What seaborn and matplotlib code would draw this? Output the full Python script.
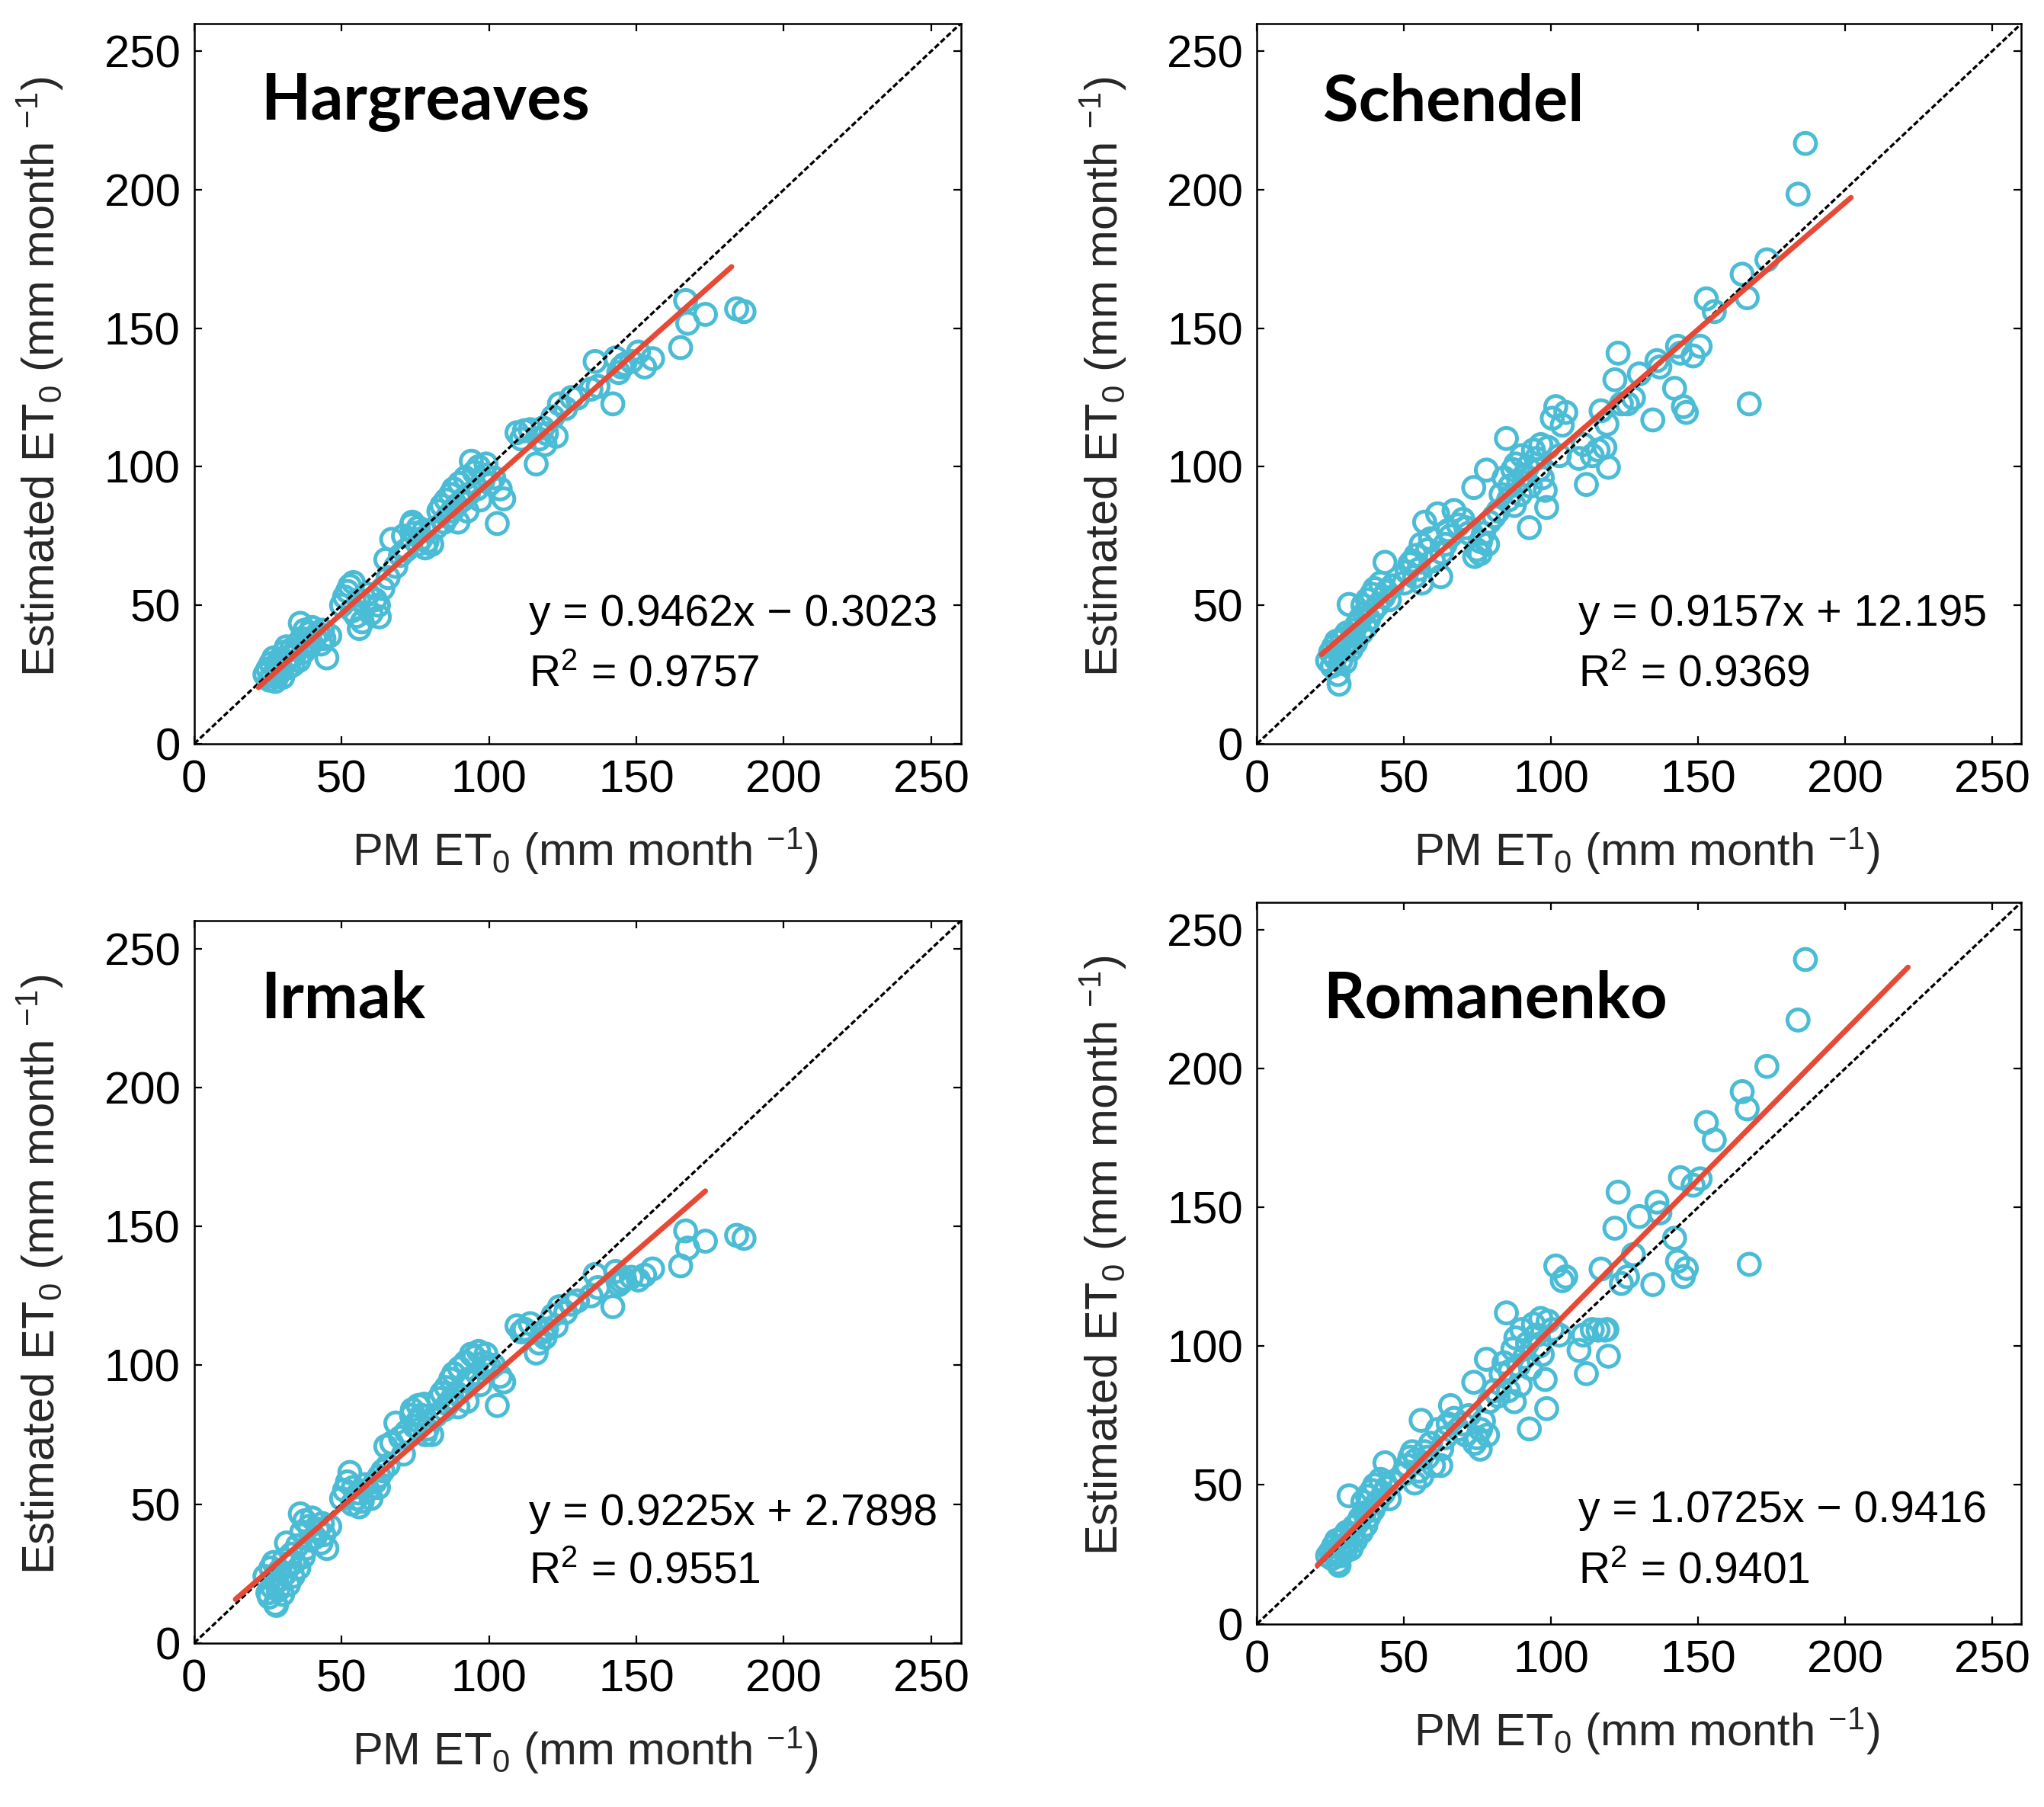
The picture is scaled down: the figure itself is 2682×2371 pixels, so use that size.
import numpy as np
import pandas as pd
import matplotlib
matplotlib.use("Agg")
import matplotlib.pyplot as plt
import seaborn as sns

# ---------------- data ----------------
pm_et0 = [24.0, 25.0, 25.5, 26.0, 26.5, 27.0, 27.5, 27.9, 28.0, 28.5, 29.0, 29.5, 30.0, 30.5,
          31.0, 31.3, 32.0, 32.5, 33.0, 33.5, 34.0, 35.0, 35.5, 36.0, 36.5, 37.0, 37.5, 38.0,
          39.0, 39.5, 40.0, 41.0, 42.0, 43.0, 43.5, 44.0, 45.0, 46.0,
          50.0, 51.0, 52.0, 52.8, 53.6, 54.0, 55.0, 55.8, 56.0, 57.0, 58.0, 59.0, 60.0, 61.4,
          62.5, 62.8, 64.0, 65.0, 65.8, 67.0, 68.4, 70.0, 71.0, 72.0, 73.7, 74.0, 74.8, 75.9,
          76.0, 77.0, 78.0, 78.4, 79.0, 80.6,
          82.0, 83.0, 84.0, 84.8, 85.5, 86.0, 87.0, 87.5, 88.0, 89.0, 89.5, 90.0, 91.0, 92.0,
          92.6, 93.0, 94.0, 95.0, 96.0, 96.5, 97.0, 98.0, 98.5, 99.0, 100.4, 101.6, 102.8,
          103.8, 105.0,
          109.5, 111.0, 112.0, 114.0, 116.0, 117.0, 118.3, 119.0, 119.5, 121.7, 122.8, 123.9,
          126.0, 128.0, 130.0, 134.6, 136.0, 137.0, 142.0, 143.0, 145.0, 146.0, 144.0, 148.3,
          150.7, 152.8, 155.5,
          165.0, 166.7, 167.4, 173.4, 184.0, 186.5]

hargreaves = [25.0, 27.0, 23.0, 29.0, 24.5, 31.0, 22.5, 26.0, 28.0, 25.0, 30.5, 27.0, 24.0, 33.0,
              29.0, 35.0, 27.5, 31.5, 34.0, 28.5, 32.0, 36.0, 30.0, 43.5, 38.0, 33.0, 41.0, 35.5,
              40.0, 37.0, 42.0, 38.5, 40.0, 36.0, 41.0, 38.0, 31.0, 39.0,
              50.0, 53.0, 55.0, 57.0, 48.0, 58.2, 46.0, 52.0, 41.6, 44.0, 50.0, 54.0, 47.0, 52.0,
              50.0, 45.8, 56.0, 66.5, 60.0, 73.8, 64.0, 68.0, 75.0, 70.0, 79.0, 80.0, 76.0, 72.0,
              78.0, 74.0, 77.0, 70.7, 73.0, 72.0,
              78.0, 84.0, 86.0, 80.0, 88.0, 82.0, 90.0, 84.0, 92.0, 86.0, 80.0, 94.0, 88.0, 96.0,
              84.0, 90.0, 102.0, 98.0, 92.0, 100.0, 88.0, 95.0, 97.0, 101.0, 94.0, 96.0, 79.5,
              92.0, 88.4,
              112.3, 110.0, 113.0, 113.4, 101.0, 110.0, 114.0, 108.0, 112.0, 118.0, 111.0, 122.7,
              121.0, 125.0, 124.8, 128.0, 138.0, 129.0, 122.7, 139.3, 136.0, 137.0, 134.0, 138.0,
              141.4, 136.0, 139.0,
              143.0, 160.0, 151.8, 155.0, 157.0, 156.0]

schendel = [30.0, 33.0, 28.0, 35.0, 31.0, 37.0, 25.0, 21.5, 33.5, 30.0, 38.0, 35.0, 29.5, 40.0,
            36.0, 50.3, 34.0, 39.0, 41.0, 36.5, 43.0, 45.0, 40.0, 50.0, 47.0, 42.0, 52.0, 45.0,
            54.0, 48.0, 56.0, 50.0, 58.0, 53.0, 65.5, 55.0, 52.0, 57.0,
            58.0, 62.0, 65.0, 66.0, 60.3, 68.0, 63.0, 72.0, 58.0, 80.0, 70.0, 74.0, 66.0, 83.0,
            60.3, 69.0, 72.0, 77.0, 75.0, 84.2, 79.0, 81.0, 78.0, 76.0, 92.5, 67.6, 70.0, 68.6,
            73.0, 76.0, 98.8, 72.0, 80.0, 82.0,
            84.0, 90.0, 96.0, 110.2, 88.0, 93.0, 99.0, 86.0, 101.0, 95.0, 90.0, 104.0, 97.0, 100.0,
            78.0, 93.0, 106.0, 103.0, 99.0, 108.0, 96.0, 91.5, 85.3, 107.0, 117.5, 121.7, 104.0,
            115.0, 119.6,
            103.0, 108.0, 93.6, 104.0, 106.0, 120.2, 107.0, 115.4, 99.8, 131.4, 141.0, 122.7,
            122.7, 124.8, 133.5, 116.9, 138.3, 136.0, 128.3, 143.5, 121.7, 119.6, 141.0, 140.0,
            143.5, 160.6, 156.0,
            169.5, 161.0, 122.7, 174.7, 198.4, 216.7]

irmak = [24.0, 18.0, 16.5, 27.0, 20.0, 29.0, 14.0, 13.5, 22.0, 19.0, 26.0, 23.0, 17.5, 30.0,
         25.0, 36.0, 21.0, 28.0, 32.0, 24.0, 29.0, 35.0, 27.0, 46.5, 40.0, 31.0, 44.0, 34.0,
         42.0, 37.0, 45.0, 38.0, 41.0, 36.0, 43.0, 39.0, 34.0, 42.0,
         52.0, 55.0, 58.0, 61.4, 50.0, 56.0, 52.0, 54.0, 49.0, 51.0, 57.0, 55.0, 52.0, 58.0,
         56.0, 60.0, 62.0, 70.8, 64.0, 72.0, 79.2, 74.0, 68.0, 76.0, 82.0, 84.0, 78.0, 80.0,
         85.5, 82.0, 86.0, 75.0, 77.0, 75.0,
         82.0, 88.0, 90.0, 84.0, 92.0, 86.0, 95.0, 88.0, 97.0, 90.0, 85.0, 99.0, 92.0, 101.0,
         87.0, 95.0, 104.0, 103.0, 97.0, 105.0, 93.0, 99.0, 101.0, 104.0, 99.0, 100.0, 85.5,
         96.0, 94.0,
         114.2, 112.0, 113.0, 115.0, 104.4, 108.0, 112.0, 110.0, 113.0, 118.0, 114.2, 121.1,
         119.0, 122.0, 123.2, 125.0, 132.7, 128.0, 121.1, 133.8, 130.0, 131.0, 129.0, 131.7,
         130.7, 132.5, 134.7,
         135.8, 148.4, 142.2, 144.7, 146.8, 145.7]

romanenko = [24.5, 26.0, 23.5, 28.0, 25.0, 30.0, 22.0, 21.0, 27.5, 24.5, 31.0, 28.0, 26.0, 33.0,
             29.5, 46.1, 27.0, 32.0, 35.0, 30.0, 36.0, 38.0, 33.0, 44.0, 40.0, 35.5, 46.0, 38.5,
             48.0, 41.0, 50.0, 44.0, 52.0, 47.0, 58.0, 49.0, 45.0, 51.0,
             54.0, 57.0, 60.0, 62.0, 50.7, 59.0, 55.0, 73.3, 53.0, 62.0, 60.0, 65.0, 57.0, 70.0,
             57.0, 63.0, 67.0, 72.0, 78.6, 74.0, 70.0, 72.0, 68.0, 75.0, 87.0, 65.0, 67.0, 62.9,
             70.0, 73.0, 95.3, 68.0, 80.0, 84.0,
             82.0, 90.0, 94.0, 112.0, 84.0, 91.0, 99.0, 80.0, 103.0, 93.0, 86.0, 106.0, 96.0, 101.0,
             70.2, 92.0, 108.0, 104.0, 100.0, 110.0, 97.0, 88.0, 77.5, 109.0, 106.0, 128.9, 104.0,
             123.6, 125.0,
             98.5, 104.0, 90.1, 106.0, 105.8, 127.8, 105.8, 106.0, 96.4, 142.5, 155.5, 122.6,
             125.0, 133.0, 146.7, 122.2, 151.9, 148.0, 138.9, 130.6, 125.1, 128.0, 160.7, 158.0,
             160.3, 180.6, 174.3,
             191.7, 185.5, 129.5, 200.8, 217.5, 239.3]

methods = ["Hargreaves", "Schendel", "Irmak", "Romanenko"]
estimates = [hargreaves, schendel, irmak, romanenko]
slopes = [0.9462, 0.9157, 0.9225, 1.0725]
intercepts = [-0.3023, 12.195, 2.7898, -0.9416]
r_squared = ["0.9757", "0.9369", "0.9551", "0.9401"]
equations = ["y = 0.9462x \u2212 0.3023", "y = 0.9157x + 12.195",
             "y = 0.9225x + 2.7898", "y = 1.0725x \u2212 0.9416"]
fit_x_start = [21.8, 21.9, 14.0, 20.5]
fit_x_end = [182.3, 202.0, 173.4, 221.4]
tick_values = [0, 50, 100, 150, 200, 250]

# ---------------- layout / style ----------------
axes_rects = [(0.095, 0.5884, 0.375, 0.3986), (0.615, 0.5884, 0.374, 0.3986),
              (0.095, 0.0908, 0.375, 0.3995), (0.615, 0.1014, 0.374, 0.3994)]
title_y = [231.7, 231.7, 232.0, 225.0]
eq_x = [113.5, 109.4, 113.5, 109.4]
eq_y = [(42.6, 20.8), (42.6, 20.8), (42.5, 21.6), (36.7, 14.7)]

CYAN = "#4BBCD6"
RED = "#E64A36"

sns.set_theme(style="ticks")
plt.rcParams["font.family"] = ["Liberation Sans", "DejaVu Sans"]
plt.rcParams["mathtext.fontset"] = "custom"
plt.rcParams["mathtext.rm"] = "Liberation Sans"
plt.rcParams["mathtext.it"] = "Liberation Sans:italic"
plt.rcParams["mathtext.bf"] = "Liberation Sans:bold"
plt.rcParams["mathtext.default"] = "regular"

FS_TICK = 43
FS_LABEL = 43
FS_EQ = 41

fig = plt.figure(figsize=(26.82, 23.71), dpi=100)
fig.patch.set_facecolor("white")

for i, name in enumerate(methods):
    ax = fig.add_axes(axes_rects[i])
    ax.set_facecolor("white")
    df = pd.DataFrame({"pm": pm_et0, "est": estimates[i]})
    sns.scatterplot(data=df, x="pm", y="est", ax=ax, marker="o", s=400,
                    facecolors="none", edgecolor=CYAN, linewidth=3.6, zorder=2,
                    legend=False)
    one = pd.DataFrame({"x": [0, 260], "y": [0, 260]})
    sns.lineplot(data=one, x="x", y="y", ax=ax, color="black", lw=2.4,
                 linestyle=(0, (2.2, 1.0)), zorder=3)
    fx = np.array([fit_x_start[i], fit_x_end[i]])
    fit = pd.DataFrame({"x": fx, "y": slopes[i] * fx + intercepts[i]})
    sns.lineplot(data=fit, x="x", y="y", ax=ax, color=RED, lw=5.0, zorder=4)

    ax.set_xlim(0, 260)
    ax.set_ylim(0, 260)
    ax.set_xticks(tick_values)
    ax.set_yticks(tick_values)
    ax.tick_params(direction="in", top=True, right=True, length=7, width=1.6,
                   labelsize=FS_TICK, color="black", labelcolor="black")
    ax.tick_params(axis="x", pad=15)
    ax.tick_params(axis="y", pad=13)
    for sp in ax.spines.values():
        sp.set_visible(True)
        sp.set_linewidth(1.8)
        sp.set_color("black")

    ax.set_xlabel("PM ET$_0$ (mm month $^{-1}$)", fontsize=FS_LABEL, va="center")
    ax.set_ylabel("Estimated ET$_0$ (mm month $^{-1}$)", fontsize=FS_LABEL, va="center")
    ax.xaxis.set_label_coords(0.51, -0.149)
    ax.yaxis.set_label_coords(-0.201, 0.51)

    ax.text(22.5, title_y[i], name, fontsize=61, fontweight="bold",
            family=["Lato", "DejaVu Sans"], va="center", ha="left", color="black")
    ax.text(eq_x[i], eq_y[i][0], equations[i], fontsize=FS_EQ, va="baseline",
            ha="left", color="black")
    ax.text(eq_x[i], eq_y[i][1], "R$^{2}$ = " + r_squared[i], fontsize=FS_EQ,
            va="baseline", ha="left", color="black")

fig.savefig("out.png", dpi=100, facecolor="white")
